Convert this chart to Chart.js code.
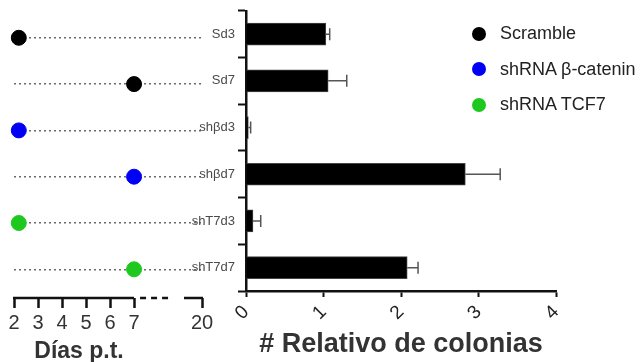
<!DOCTYPE html>
<html>
<head>
<meta charset="utf-8">
<script src="https://cdn.jsdelivr.net/npm/chart.js@4"></script>
<style>
  body { margin: 0; background: #fff; font-family: "Liberation Sans", Arial, sans-serif; }
  #wrap { position: relative; width: 644px; height: 362px; }
  #wrap canvas { position: absolute; left: 0; top: 0; }
  #legend { position: absolute; left: 472px; top: 16px; }
  .item { display: flex; align-items: center; height: 35.5px; font-size: 18px; color: #222; }
  .dot { width: 14px; height: 14px; border-radius: 50%; margin-right: 14px; }
</style>
</head>
<body>
<div id="wrap">
  <canvas id="dayChart" width="644" height="362"></canvas>
  <canvas id="colChart" width="644" height="362"></canvas>
  <div id="legend"></div>
</div>
<script>
// === DATOS ===
const groups = ["Scramble", "shRNA \u03b2-catenin", "shRNA TCF7"];
const groupColors = ["#000000", "#0000f5", "#1ec81e"];
const conditions = ["Sd3", "Sd7", "sh\u03b2d3", "sh\u03b2d7", "shT7d3", "shT7d7"];
const conditionGroup = [0, 0, 1, 1, 2, 2];
const conditionDay = [2.2, 7, 2.2, 7, 2.2, 7];
const colonyMean = [1.03, 1.06, 0.03, 2.83, 0.09, 2.08];
const colonyErr = [0.05, 0.24, 0.03, 0.45, 0.10, 0.14];
const dayTicks = [2, 3, 4, 5, 6, 7, 20];
const relTicks = [0, 1, 2, 3, 4];

// eje cortado: el 20 se dibuja justo despues del corte
const breakAt = 9.83;
const dayPos = d => (d <= 7 ? d : breakAt);

// === LEYENDA ===
document.getElementById("legend").innerHTML = groups.map((g, i) =>
  '<div class="item"><span class="dot" style="background:' + groupColors[i] + '"></span>' + g + '</div>'
).join("");

// eje x partido + titulo "Dias p.t."
const brokenAxis = {
  id: "brokenAxis",
  afterDraw(chart) {
    const ctx = chart.ctx;
    const x = chart.scales.x;
    const y = chart.chartArea.bottom;
    ctx.save();
    ctx.strokeStyle = "#111";
    ctx.lineWidth = 2.5;
    ctx.beginPath();
    ctx.moveTo(x.getPixelForValue(2) - 1, y);
    ctx.lineTo(x.getPixelForValue(7), y);
    ctx.moveTo(x.getPixelForValue(9.08), y);
    ctx.lineTo(x.getPixelForValue(breakAt) + 1, y);
    ctx.stroke();
    ctx.setLineDash([6, 5]);
    ctx.beginPath();
    ctx.moveTo(x.getPixelForValue(7.25), y);
    ctx.lineTo(x.getPixelForValue(8.55), y);
    ctx.stroke();
    ctx.setLineDash([]);
    ctx.fillStyle = "#333";
    ctx.font = "bold 23px 'Liberation Sans', Arial";
    ctx.textAlign = "center";
    ctx.textBaseline = "alphabetic";
    ctx.fillText("D\u00edas p.t.", (x.getPixelForValue(2) + x.getPixelForValue(7)) / 2 + 5, 358);
    ctx.restore();
  }
};

// === DIAS P.T. (PUNTOS) ===
const dayChart = new Chart(document.getElementById("dayChart"), {
  type: "scatter",
  data: {
    datasets: groups.map((g, gi) => ({
      label: g,
      data: conditions.map((c, i) => ({ x: conditionDay[i], y: i })).filter((p, i) => conditionGroup[i] === gi),
      backgroundColor: groupColors[gi],
      borderColor: groupColors[gi],
      pointRadius: 7.5,
      clip: false
    }))
  },
  options: {
    responsive: false,
    animation: false,
    layout: { padding: { left: 14, right: 442, top: 10, bottom: 0 } },
    plugins: { legend: { display: false }, tooltip: { enabled: false } },
    scales: {
      x: {
        type: "linear",
        min: 2,
        max: breakAt,
        afterBuildTicks: s => { s.ticks = dayTicks.map(d => ({ value: dayPos(d) })); },
        afterFit: s => { s.height = 64; },
        ticks: {
          autoSkip: false,
          maxRotation: 0,
          padding: 3,
          color: "#333",
          font: { size: 20, family: "'Liberation Sans', Arial" },
          callback: (v, i) => String(dayTicks[i])
        },
        grid: { drawOnChartArea: false, tickLength: 10, tickWidth: 2.5, tickColor: "#111" },
        border: { display: false }
      },
      y: {
        type: "linear",
        reverse: true,
        min: -0.6,
        max: 5.62,
        afterBuildTicks: s => { s.ticks = conditions.map((c, i) => ({ value: i })); },
        afterFit: s => { s.width = 0; },
        ticks: { display: false },
        grid: { color: "#6a6a6a", lineWidth: 1.5, drawTicks: false },
        border: { display: false, dash: [2, 3] }
      }
    }
  },
  plugins: [brokenAxis]
});

// barras de error (solo lado positivo)
const errorBars = {
  id: "errorBars",
  afterDatasetsDraw(chart) {
    const ctx = chart.ctx;
    const x = chart.scales.x, y = chart.scales.y;
    ctx.save();
    ctx.strokeStyle = "#555";
    ctx.lineWidth = 1.5;
    colonyMean.forEach((m, i) => {
      const yp = y.getPixelForValue(i);
      const x0 = x.getPixelForValue(m);
      const x1 = x.getPixelForValue(m + colonyErr[i]);
      ctx.beginPath();
      ctx.moveTo(x0, yp);
      ctx.lineTo(x1, yp);
      ctx.moveTo(x1, yp - 6);
      ctx.lineTo(x1, yp + 6);
      ctx.stroke();
    });
    ctx.restore();
  }
};

// === # RELATIVO DE COLONIAS ===
const colChart = new Chart(document.getElementById("colChart"), {
  type: "bar",
  data: {
    labels: conditions,
    datasets: [{
      label: "# Relativo de colonias",
      data: colonyMean,
      backgroundColor: "#000",
      borderColor: "#444",
      borderWidth: 1,
      barThickness: 22
    }]
  },
  options: {
    indexAxis: "y",
    responsive: false,
    animation: false,
    layout: { padding: { left: 0, right: 88, top: 10, bottom: 0 } },
    plugins: { legend: { display: false }, tooltip: { enabled: false } },
    scales: {
      x: {
        type: "linear",
        min: 0,
        max: 4,
        afterBuildTicks: s => { s.ticks = relTicks.map(v => ({ value: v })); },
        afterFit: s => { s.height = 71; },
        ticks: {
          minRotation: 45,
          maxRotation: 45,
          padding: 4,
          color: "#222",
          font: { size: 19, family: "'Liberation Sans', Arial" }
        },
        grid: { drawOnChartArea: false, tickLength: 6, tickWidth: 2, tickColor: "#111" },
        border: { color: "#111", width: 2.5 },
        title: {
          display: true,
          text: "# Relativo de colonias",
          color: "#333",
          font: { size: 27, weight: "bold", family: "'Liberation Sans', Arial" },
          padding: { top: 0, bottom: 1 }
        }
      },
      y: {
        afterFit: s => { s.width = 246; },
        ticks: { color: "#4a4a4a", padding: 3, font: { size: 13, family: "'Liberation Sans', Arial" } },
        grid: { drawOnChartArea: false, tickLength: 8, tickWidth: 2, tickColor: "#111" },
        border: { color: "#111", width: 2.5 }
      }
    }
  },
  plugins: [errorBars]
});
</script>
</body>
</html>
